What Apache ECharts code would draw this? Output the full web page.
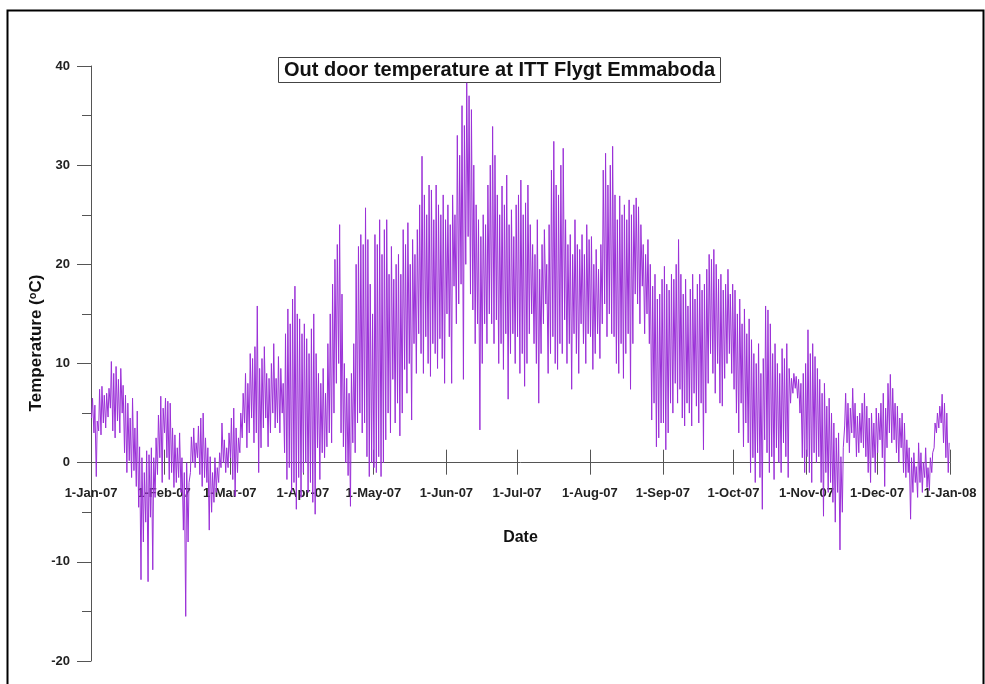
<!DOCTYPE html>
<html>
<head>
<meta charset="utf-8">
<script src="https://cdn.jsdelivr.net/npm/echarts@6/dist/echarts.min.js"></script>
<style>html,body{margin:0;padding:0;background:#fff}#c{width:985px;height:684px}</style>
</head>
<body>
<div id="c"></div>
<script>
// Month start (day of year) for tick positions and their labels
const monthStarts = [0, 31, 59, 90, 120, 151, 181, 212, 243, 273, 304, 334, 365];
const tickLabels = ['1-Jan-07','1-Feb-07','1-Mar-07','1-Apr-07','1-May-07','1-Jun-07','1-Jul-07','1-Aug-07','1-Sep-07','1-Oct-07','1-Nov-07','1-Dec-07','1-Jan-08'];
const yTicks = [-20, -10, 0, 10, 20, 30, 40];

// Daily high / low temperatures (°C)
const hiJan = [6.5, 5.8, 4.2, 7.4, 7.7, 6.8, 7.0, 7.5, 10.2, 9.0, 9.7, 8.4, 9.5, 7.8, 6.8, 6.0, 4.5, 6.5, 3.5, 5.2, 1.6, 0.5, -1.0, 1.2, 0.8, 1.5, 0.5, 2.5, 4.8, 6.7, 5.5];
const loJan = [4.5, 3.0, -1.4, 3.2, 2.8, 4.0, 3.5, 4.6, 5.5, 3.2, 2.5, 4.2, 3.0, 5.0, 1.0, -1.0, 0.2, -1.5, -0.8, -2.4, -4.5, -11.8, -8.0, -6.0, -12.0, -5.5, -10.8, -3.5, -1.2, 0.5, -2.0];
const hiFeb = [6.5, 6.2, 6.0, 3.5, 2.8, 1.5, 3.0, 0.5, -1.0, 0.0, -2.0, 2.6, 3.5, 2.0, 3.7, 4.5, 5.0, 2.5, 1.5, 0.6, -1.0, 0.5, -0.5, 1.0, 4.0, 2.3, 1.5, 3.0];
const loFeb = [3.0, 0.5, -1.7, -1.0, -2.5, -2.0, -1.5, -3.0, -6.8, -15.5, -8.0, -1.0, 0.0, -0.5, 0.5, -1.2, -2.4, -1.5, -2.0, -6.8, -5.0, -4.0, -3.0, -2.0, -0.5, 0.0, -1.0, -0.5];
const hiMar = [4.5, 5.5, 3.5, 2.5, 5.0, 7.0, 9.0, 8.0, 11.0, 10.5, 11.7, 15.8, 9.5, 10.5, 11.7, 9.0, 8.5, 10.0, 12.0, 8.5, 10.7, 9.5, 8.0, 13.0, 15.5, 14.0, 16.5, 17.8, 15.0, 14.5, 13.0];
const loMar = [0.5, -1.7, -3.4, -1.0, 1.0, 2.5, 4.0, 1.5, 3.0, 4.5, 2.0, 3.0, -1.0, 1.5, 3.5, 4.5, 1.6, 3.0, 5.0, 3.5, 4.0, 3.0, 5.0, 1.0, -1.7, -0.5, -3.0, -2.0, -4.7, -1.5, -3.5];
const hiApr = [14.0, 12.5, 11.0, 13.5, 15.0, 11.0, 9.0, 8.0, 9.5, 7.0, 12.0, 15.0, 18.0, 20.5, 22.0, 24.0, 17.0, 10.0, 8.5, 7.0, 9.0, 12.0, 20.0, 21.8, 23.0, 22.0, 25.7, 22.5, 18.0, 15.0];
const loApr = [-1.0, 0.0, -3.0, -2.0, -4.0, -5.2, 1.5, -1.7, 1.0, 0.5, 1.6, 3.0, 2.0, 5.0, 8.0, 10.0, 3.0, 1.6, 0.0, -1.3, -4.4, 2.0, 1.0, 4.0, 5.0, 3.0, 4.0, 0.6, -1.4, 0.0];
const hiMay = [23.0, 22.0, 24.5, 21.0, 23.5, 24.5, 19.0, 21.8, 18.5, 20.0, 21.0, 19.0, 23.5, 22.0, 24.2, 20.0, 22.5, 21.0, 23.5, 26.0, 30.9, 27.0, 25.0, 28.0, 27.5, 24.5, 28.0, 26.0, 25.0, 27.0, 24.5];
const loMay = [-0.5, -1.0, 0.6, -1.4, 0.0, 2.3, 5.0, 3.0, 8.4, 4.0, 6.0, 2.7, 5.0, 9.4, 7.0, 10.0, 4.3, 12.0, 9.0, 13.0, 11.0, 9.0, 12.7, 10.0, 8.7, 12.0, 11.0, 9.5, 12.5, 10.5, 8.0];
const hiJun = [26.0, 24.0, 27.0, 25.0, 33.0, 31.0, 36.0, 34.0, 38.3, 37.0, 35.6, 30.0, 26.0, 24.5, 22.8, 25.0, 24.0, 28.0, 30.0, 33.9, 31.0, 27.0, 25.0, 27.9, 26.0, 29.0, 24.0, 25.5, 22.8, 26.0];
const loJun = [15.0, 12.7, 8.0, 17.8, 14.0, 16.0, 18.0, 8.4, 20.0, 22.8, 17.0, 15.4, 12.0, 14.0, 3.3, 10.0, 14.0, 12.0, 15.0, 14.0, 12.0, 14.4, 10.0, 12.0, 9.4, 13.0, 6.4, 11.0, 13.0, 10.0];
const hiJul = [27.0, 28.5, 25.0, 26.2, 28.0, 24.0, 22.0, 21.0, 24.5, 19.5, 22.0, 23.5, 20.0, 24.0, 29.5, 32.4, 28.0, 27.0, 30.0, 31.7, 24.5, 22.0, 23.0, 21.0, 24.5, 22.0, 21.5, 23.0, 21.0, 24.0, 22.5];
const loJul = [12.7, 9.0, 11.0, 7.7, 10.0, 13.0, 15.0, 12.0, 10.0, 6.0, 11.0, 14.0, 16.0, 9.0, 11.0, 12.7, 10.0, 9.4, 12.0, 11.0, 14.4, 10.0, 12.0, 7.4, 13.0, 11.0, 9.0, 14.0, 12.0, 10.0, 13.0];
const hiAug = [22.8, 20.0, 21.5, 19.5, 22.0, 29.5, 31.2, 28.0, 30.0, 31.9, 27.0, 24.5, 26.9, 25.0, 26.0, 24.5, 26.5, 25.0, 26.0, 26.7, 25.8, 24.0, 22.0, 21.0, 22.5, 20.0, 17.8, 19.0, 16.5, 17.0, 18.5];
const loAug = [12.7, 9.4, 11.0, 13.0, 10.5, 14.0, 16.0, 12.7, 15.0, 13.0, 12.7, 10.0, 9.0, 12.0, 8.5, 11.0, 13.0, 7.4, 12.0, 17.0, 16.0, 14.0, 17.8, 13.0, 15.0, 12.0, 4.3, 6.0, 1.6, 2.5, 4.0];
const hiSep = [19.8, 18.0, 17.4, 19.0, 18.5, 20.0, 22.5, 19.0, 17.0, 18.5, 15.8, 17.5, 19.0, 16.5, 18.0, 19.0, 17.4, 18.0, 19.5, 21.0, 20.5, 21.5, 20.0, 18.5, 19.0, 17.4, 18.0, 19.5, 17.0, 18.0];
const loSep = [4.0, 1.3, 3.0, 6.0, 5.0, 8.0, 6.0, 7.4, 4.5, 3.7, 6.0, 5.0, 3.7, 7.0, 5.7, 4.0, 6.0, 1.3, 5.0, 8.0, 11.0, 9.0, 7.0, 10.0, 6.0, 5.7, 8.5, 10.0, 11.0, 9.0];
const hiOct = [17.4, 15.0, 16.5, 14.0, 15.5, 13.0, 14.5, 12.4, 11.0, 10.0, 12.0, 9.0, 10.5, 15.8, 15.4, 14.0, 11.0, 12.0, 10.0, 9.0, 11.5, 10.5, 12.0, 9.5, 8.5, 9.0, 8.7, 8.4, 8.0, 9.0, 10.0];
const loOct = [7.4, 5.0, 3.0, 6.0, 1.6, 4.0, 2.0, -1.0, 0.5, -2.0, 1.0, -1.5, -4.7, 2.3, 1.0, -1.0, 0.6, -1.7, 1.5, 0.0, -1.0, 2.0, 0.6, -1.5, 6.0, 7.0, 7.5, 6.5, 5.0, 0.5, -1.0];
const hiNov = [13.4, 11.0, 12.0, 10.7, 9.5, 8.4, 7.0, 8.0, 5.7, 6.5, 5.0, 4.0, 2.5, 3.0, 0.6, 1.5, 7.0, 6.0, 5.5, 7.5, 6.0, 4.7, 5.0, 6.0, 7.0, 5.7, 4.5, 5.0, 4.0, 5.5];
const loNov = [0.6, -1.0, -2.0, 1.0, 0.0, 0.6, -2.0, -5.4, -1.0, -3.0, -2.0, -4.0, -6.0, -3.0, -8.8, -5.0, 3.7, 2.0, 1.0, 3.0, 2.5, 0.6, 1.0, 2.0, 1.5, 0.6, -1.0, -2.0, 0.5, -1.0];
const hiDec = [5.0, 6.0, 7.0, 5.5, 8.0, 8.9, 7.5, 6.0, 5.7, 4.5, 5.0, 4.0, 2.3, 1.5, 0.5, 1.0, -0.4, 2.0, 1.0, 0.0, 1.5, -0.5, 0.5, 1.0, 4.0, 5.0, 5.7, 6.9, 6.0, 5.0, 2.0];
const loDec = [1.0, 2.3, 0.5, -2.4, 1.5, 3.0, 2.0, 2.3, 1.0, 0.0, 1.5, -1.0, -1.5, -1.0, -5.7, -3.0, -2.0, -3.5, -2.0, -3.0, -1.5, -2.5, -2.8, -1.0, 1.5, 3.0, 3.5, 4.0, 2.0, 0.5, -1.0];

const highs = [hiJan, hiFeb, hiMar, hiApr, hiMay, hiJun, hiJul, hiAug, hiSep, hiOct, hiNov, hiDec];
const lows = [loJan, loFeb, loMar, loApr, loMay, loJun, loJul, loAug, loSep, loOct, loNov, loDec];

// Build (day-of-year, temperature) pairs: morning low, afternoon high
const points = [];
highs.forEach(function (hiArr, m) {
  hiArr.forEach(function (hi, i) {
    const d = monthStarts[m] + i;
    points.push([d + 0.25, lows[m][i]]);
    points.push([d + 0.65, hi]);
  });
});

const Y_MIN = yTicks[0], Y_MAX = yTicks[yTicks.length - 1];
const chart = echarts.init(document.getElementById('c'), null, { renderer: 'canvas' });
const FONT = '"Liberation Sans", Arial, sans-serif';
const axisGray = '#555';

// Layout: plot area 91..950 x 66..661 ; zero line at y = 66 + 40/60*595
const PT = 66, PB = 23, PL = 91, PR = 35, H = 684;
const zeroY = PT + (Y_MAX / (Y_MAX - Y_MIN)) * (H - PT - PB);

chart.setOption({
  animation: false,
  backgroundColor: '#fff',
  grid: [
    { left: PL, right: PR, top: PT, bottom: PB, containLabel: false, outerBoundsMode: 'none' },
    { left: PL, right: PR, top: PT, bottom: H - zeroY, containLabel: false, outerBoundsMode: 'none' },
    { left: PL, right: PR, top: zeroY, bottom: PB, containLabel: false, outerBoundsMode: 'none' }
  ],
  xAxis: [
    {
      gridIndex: 0, type: 'value', min: 0, max: 365, show: false
    },
    {
      gridIndex: 1, type: 'value', min: 0, max: 365, position: 'bottom',
      name: 'Date', nameLocation: 'middle', nameGap: 67,
      nameTextStyle: { fontFamily: FONT, fontWeight: 'bold', fontSize: 16, color: '#111' },
      axisLine: { show: true, onZero: false, lineStyle: { color: axisGray, width: 1 } },
      axisTick: { show: true, length: 12, inside: false, customValues: monthStarts, lineStyle: { color: axisGray } },
      axisLabel: {
        show: true, margin: 24, customValues: monthStarts, hideOverlap: false,
        fontFamily: FONT, fontWeight: 'bold', fontSize: 13, color: '#222',
        formatter: function (v) { const k = monthStarts.indexOf(Math.round(v)); return k >= 0 ? tickLabels[k] : ''; }
      },
      splitLine: { show: false }
    },
    {
      gridIndex: 2, type: 'value', min: 0, max: 365, position: 'top',
      axisLine: { show: false, onZero: false },
      axisTick: { show: true, length: 13, inside: false, customValues: monthStarts, lineStyle: { color: axisGray } },
      axisLabel: { show: false },
      splitLine: { show: false }
    }
  ],
  yAxis: [
    {
      gridIndex: 0, type: 'value', min: Y_MIN, max: Y_MAX, interval: 10,
      axisLine: { show: true, onZero: false, lineStyle: { color: axisGray, width: 1 } },
      axisTick: { show: true, length: 14, lineStyle: { color: axisGray } },
      minorTick: { show: true, splitNumber: 2, length: 9, lineStyle: { color: axisGray } },
      axisLabel: { margin: 21, fontFamily: FONT, fontWeight: 'bold', fontSize: 13, color: '#222' },
      splitLine: { show: false }
    },
    { gridIndex: 1, type: 'value', min: 0, max: Y_MAX, show: false },
    { gridIndex: 2, type: 'value', min: Y_MIN, max: 0, show: false }
  ],
  series: [{
    type: 'line',
    xAxisIndex: 0, yAxisIndex: 0,
    data: points,
    showSymbol: false,
    symbol: 'none',
    sampling: null,
    lineStyle: { color: '#9b30d8', width: 1 },
    z: 2
  }],
  graphic: [
    {
      type: 'rect', left: 5, top: 8, z: 100, silent: true,
      shape: { x: 0, y: 0, width: 976, height: 700 },
      style: { fill: null, stroke: '#000', lineWidth: 2 }
    },
    {
      type: 'group', left: 278, top: 57, z: 50,
      children: [
        { type: 'rect', shape: { x: 0, y: 0, width: 442, height: 25 }, style: { fill: '#fff', stroke: '#444', lineWidth: 1 } },
        { type: 'text', x: 221, y: 13, style: { text: 'Out door temperature at ITT Flygt Emmaboda', fontFamily: FONT, fontWeight: 'bold', fontSize: 20, fill: '#111', align: 'center', verticalAlign: 'middle' } }
      ]
    },
    {
      type: 'text', x: 36, y: 343, rotation: Math.PI / 2, z: 50,
      style: {
        text: 'Temperature ({s|o}C)', fontFamily: FONT, fontWeight: 'bold', fontSize: 17, fill: '#111',
        align: 'center', verticalAlign: 'middle',
        rich: { s: { fontFamily: FONT, fontWeight: 'bold', fontSize: 11, fill: '#111', verticalAlign: 'top', lineHeight: 17 } }
      }
    }
  ]
});
</script>
</body>
</html>
